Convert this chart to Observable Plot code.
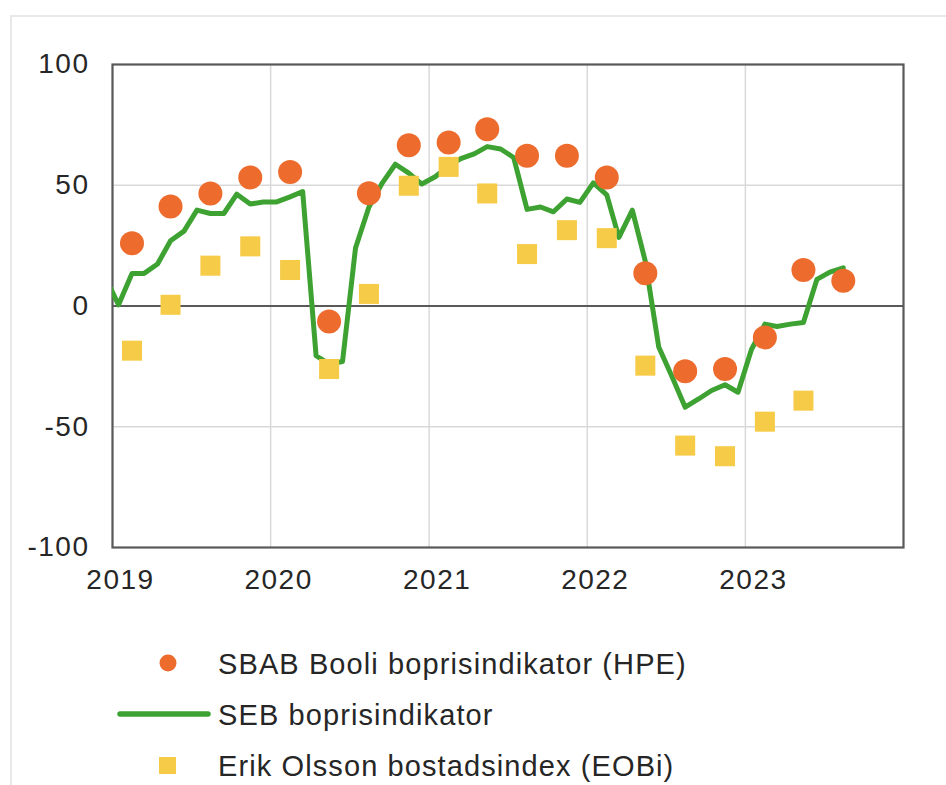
<!DOCTYPE html>
<html>
<head>
<meta charset="utf-8">
<script src="https://cdn.jsdelivr.net/npm/d3@7"></script>
<script src="https://cdn.jsdelivr.net/npm/@observablehq/plot@0.6"></script>
<style>
  html, body { margin: 0; padding: 0; background: #fff; }
  #wrap { position: relative; width: 946px; height: 785px; overflow: hidden; font-family: "Liberation Sans", Arial, sans-serif; color: #262626; }
  #border { position: absolute; left: 10px; top: 15px; width: 960px; height: 800px; border-left: 2px solid #e8e8e8; border-top: 2px solid #e8e8e8; }
  #chart { position: absolute; left: 0; top: 0; }
  #chart svg text { letter-spacing: 1.5px; }
  #legend { position: absolute; left: 0; top: 630px; width: 946px; }
  .item { position: absolute; left: 0; height: 40px; width: 946px; }
  .item svg { position: absolute; left: 0; top: 0; }
  .item span { position: absolute; left: 218px; top: 3px; font-size: 29px; letter-spacing: 1.1px; white-space: nowrap; }
</style>
</head>
<body>
<div id="wrap">
  <div id="border"></div>
  <div id="chart"></div>
  <div id="legend"></div>
</div>
<script>
// SEB boprisindikator (monthly)
const sebMonths = [
  "2018-12",
  "2019-01","2019-02","2019-03","2019-04","2019-05","2019-06","2019-07","2019-08","2019-09","2019-10","2019-11","2019-12",
  "2020-01","2020-02","2020-03","2020-04","2020-05","2020-06","2020-07","2020-08","2020-09","2020-10","2020-11","2020-12",
  "2021-01","2021-02","2021-03","2021-04","2021-05","2021-06","2021-07","2021-08","2021-09","2021-10","2021-11","2021-12",
  "2022-01","2022-02","2022-03","2022-04","2022-05","2022-06","2022-07","2022-08","2022-09","2022-10","2022-11","2022-12",
  "2023-01","2023-02","2023-03","2023-04","2023-05","2023-06","2023-07","2023-08"
];
const sebValues = [
  12,
  0.5, 13.5, 13.5, 17.4, 27, 31, 39.7, 38.3, 38.3, 46.3, 42.2, 43.1,
  43.1, 45.2, 47.4, -20.6, -24, -23, 24, 41, 51, 58.7, 55, 50.5,
  53.5, 58, 61, 63, 66, 65, 61.5, 40, 41, 39, 44.3, 42.9,
  51, 46, 28.4, 39.7, 18.5, -17, -29, -41.9, -38.5, -35, -32.6, -35.7,
  -18, -7.5, -8.5, -7.5, -6.8, 11, 14, 15.8
];

// Quarterly indicators
const quarterMonths = [
  "2019-02","2019-05","2019-08","2019-11",
  "2020-02","2020-05","2020-08","2020-11",
  "2021-02","2021-05","2021-08","2021-11",
  "2022-02","2022-05","2022-08","2022-11",
  "2023-02","2023-05","2023-08"
];
// SBAB Booli boprisindikator (HPE)
const hpeValues = [26, 41.2, 46.6, 53.2, 55.5, -6.4, 46.7, 66.6, 67.7, 73.2, 62.2, 62.2, 53.2, 13.6, -27, -26.1, -13, 14.9, 10.5];
// Erik Olsson bostadsindex (EOBi)
const eobiValues = [-18.5, 0.5, 16.7, 24.7, 14.9, -26.1, 5, 49.8, 57.6, 46.6, 21.5, 31.4, 28.1, -24.7, -57.8, -62.2, -47.9, -39.2, null];

const yearTicks = [2019, 2020, 2021, 2022, 2023];
const yTicks = [-100, -50, 0, 50, 100];
const seriesNames = ["SBAB Booli boprisindikator (HPE)", "SEB boprisindikator", "Erik Olsson bostadsindex (EOBi)"];
const colors = { hpe: "#ED6B2D", seb: "#3EA232", eobi: "#F6CB47" };

const midMonth = (m) => new Date(Date.UTC(+m.slice(0, 4), +m.slice(5, 7) - 1, 15));
const seb = sebMonths.map((m, i) => ({ date: midMonth(m), value: sebValues[i] }));
const hpe = quarterMonths.map((m, i) => ({ date: midMonth(m), value: hpeValues[i] }));
const eobi = quarterMonths.map((m, i) => ({ date: midMonth(m), value: eobiValues[i] })).filter(d => d.value != null);
const yearDates = yearTicks.map(y => new Date(Date.UTC(y, 0, 1)));

const chart = Plot.plot({
  width: 946,
  height: 600,
  marginLeft: 112,
  marginRight: 43,
  marginTop: 64,
  marginBottom: 53,
  style: { fontFamily: "'Liberation Sans', Arial, sans-serif", fontSize: "28px", color: "#262626", background: "transparent" },
  x: { type: "utc", domain: [new Date(Date.UTC(2019, 0, 1)), new Date(Date.UTC(2024, 0, 1))], label: null },
  y: { domain: [-100, 100], label: null },
  marks: [
    Plot.gridX(yearDates, { stroke: "#d9d9d9", strokeOpacity: 1, strokeWidth: 1.5 }),
    Plot.gridY([-50, 50], { stroke: "#d9d9d9", strokeOpacity: 1, strokeWidth: 1.5 }),
    Plot.ruleY([0], { stroke: "#595959", strokeWidth: 2 }),
    Plot.frame({ stroke: "#595959", strokeWidth: 2.2 }),
    Plot.line(seb, { x: "date", y: "value", stroke: colors.seb, strokeWidth: 5, strokeLinejoin: "round", clip: true }),
    Plot.dot(eobi, { x: "date", y: "value", symbol: "square", r: 11.3, fill: colors.eobi }),
    Plot.dot(hpe, { x: "date", y: "value", r: 12, fill: colors.hpe }),
    Plot.axisX(yearDates, { tickSize: 0, tickPadding: 22, tickFormat: "%Y", dx: 8, fontSize: 28, fill: "#262626", label: null }),
    Plot.axisY(yTicks, { tickSize: 0, tickPadding: 23, tickFormat: d => String(d), fontSize: 28, fill: "#262626", label: null })
  ]
});
document.getElementById("chart").appendChild(chart);

// Legend
const legend = document.getElementById("legend");
const swatches = [
  `<svg width="240" height="40"><circle cx="168" cy="18" r="8.5" fill="${colors.hpe}"/></svg>`,
  `<svg width="240" height="40"><line x1="120" x2="208" y1="18" y2="18" stroke="${colors.seb}" stroke-width="5.5" stroke-linecap="round"/></svg>`,
  `<svg width="240" height="40"><rect x="159" y="10" width="17" height="17" fill="${colors.eobi}"/></svg>`
];
const tops = [15, 66, 117];
seriesNames.forEach((name, i) => {
  const div = document.createElement("div");
  div.className = "item";
  div.style.top = tops[i] + "px";
  div.innerHTML = swatches[i] + `<span>${name}</span>`;
  legend.appendChild(div);
});
</script>
</body>
</html>
